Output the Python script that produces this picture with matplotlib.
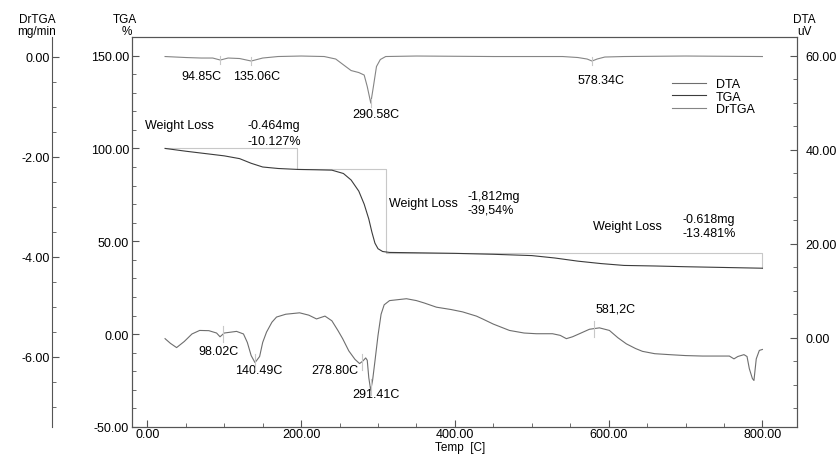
import matplotlib
matplotlib.use("Agg")
import matplotlib.pyplot as plt
import numpy as np
from matplotlib.ticker import MultipleLocator, FormatStrFormatter

plt.rcParams["font.family"] = ["Liberation Sans", "DejaVu Sans"]
plt.rcParams["font.size"] = 9

# DrTGA (mg/min) vs temperature
DR_T = [23, 50, 70, 85, 94.85, 105, 120, 135.06, 150, 170, 200, 230, 245, 258, 265, 275,
        282, 286, 290.58, 294, 298, 303, 310, 350, 450, 540, 560, 572, 578.34, 585, 595,
        620, 700, 800]
DR_V = [0.0, -0.02, -0.03, -0.03, -0.07, -0.03, -0.04, -0.09, -0.03, 0.0, 0.01, 0.0, -0.05,
        -0.2, -0.28, -0.32, -0.37, -0.6, -0.93, -0.6, -0.2, -0.06, 0.0, 0.01, 0.0, 0.0, -0.02,
        -0.05, -0.09, -0.05, -0.01, 0.0, 0.01, 0.0]

# TGA (%) vs temperature
TG_T = [23, 50, 80, 100, 120, 135, 150, 170, 195, 220, 240, 255, 265, 275, 282, 288, 292,
        296, 300, 306, 315, 350, 400, 450, 500, 530, 560, 590, 620, 660, 700, 750, 800]
TG_V = [100, 98.5, 97, 96, 94.5, 92, 90, 89.2, 88.7, 88.5, 88.3, 86.5, 83, 77, 70, 62, 55,
        49, 46, 44.5, 44, 43.8, 43.5, 43, 42.3, 41, 39.3, 38, 37, 36.7, 36.3, 35.9, 35.5]

# DTA (uV) vs temperature
DTA_T = [23, 30, 38, 48, 58, 68, 80, 90, 94.5, 100, 116, 125, 130, 135, 140, 146, 150, 155,
         162, 168, 180, 198, 210, 220, 231, 240, 248, 254, 262, 270, 276, 280, 284, 286, 288,
         290.5, 293, 296, 300, 304, 308, 315, 337, 350, 360, 376, 395, 410, 428, 436, 450,
         471, 490, 506, 527, 537, 545, 553, 562, 575, 588, 601, 612, 623, 635, 644, 660, 679,
         700, 722, 745, 757, 763, 768, 776, 780, 783, 787, 789, 792, 796, 800]
DTA_V = [-0.2, -1.2, -2.1, -0.8, 0.8, 1.55, 1.5, 1.0, 0.2, 1.0, 1.35, 0.8, -1.0, -3.8, -5.3,
         -4.0, -1.0, 1.2, 3.3, 4.4, 5.0, 5.3, 4.8, 4.0, 4.6, 3.6, 1.5, -0.2, -2.8, -4.6, -5.5,
         -5.0, -4.3, -4.8, -8.5, -11.2, -9.0, -5.0, 0.5, 5.0, 7.0, 7.9, 8.3, 7.9, 7.4, 6.5,
         6.0, 5.5, 4.6, 4.0, 2.9, 1.55, 1.0, 0.85, 0.85, 0.5, -0.2, 0.2, 0.85, 1.8, 2.1, 1.55,
         0.0, -1.3, -2.3, -2.9, -3.4, -3.6, -3.8, -3.9, -3.9, -3.9, -4.5, -4.0, -3.6, -4.0,
         -6.6, -8.7, -9.1, -4.5, -2.7, -2.5]

# weight-loss step construction lines
STEP_T = [23, 195, 310, 800]
STEP_W = [100, 88.7, 43.5, 35.5]

DR_PEAKS = [94.85, 135.06, 290.58, 578.34]
DTA_PEAKS = [98.02, 140.49, 278.80, 291.41, 581.2]

AX_COL = "#555555"
C_DTA = "#6e6e6e"
C_TGA = "#3c3c3c"
C_DR = "#858585"
C_AUX = "#c8c8c8"

fig = plt.figure(figsize=(8.39, 4.56), dpi=100)
ax = fig.add_axes([132 / 839, 28 / 456, 665 / 839, 390 / 456])
ax_dta = ax.twinx()
ax_dr = ax.twinx()

ax.set_xlim(-20, 845)
ax.set_ylim(-50, 160)
ax_dta.set_ylim(-19, 64)
ax_dr.set_ylim(-7.4, 0.39)

# curves
ax.step(STEP_T, STEP_W, where="post", color=C_AUX, lw=0.8)
ax.plot(TG_T, TG_V, color=C_TGA, lw=0.8)
ax_dta.plot(DTA_T, DTA_V, color=C_DTA, lw=0.8)
ax_dr.plot(DR_T, DR_V, color=C_DR, lw=0.8)

# peak markers
for t in DR_PEAKS:
    v = np.interp(t, DR_T, DR_V)
    ax_dr.plot([t, t], [v - 0.08, v + 0.08], color=C_AUX, lw=0.8)
for t in DTA_PEAKS:
    v = np.interp(t, DTA_T, DTA_V)
    ax_dta.plot([t, t], [v - 1.7, v + 1.7], color=C_AUX, lw=0.8)

# spines / ticks
for a in (ax, ax_dta, ax_dr):
    for s in a.spines.values():
        s.set_color(AX_COL)
        s.set_linewidth(0.8)

ax.xaxis.set_major_locator(MultipleLocator(200))
ax.xaxis.set_minor_locator(MultipleLocator(50))
ax.xaxis.set_major_formatter(FormatStrFormatter("%.2f"))
ax.yaxis.set_major_locator(MultipleLocator(50))
ax.yaxis.set_minor_locator(MultipleLocator(10))
ax.yaxis.set_major_formatter(FormatStrFormatter("%.2f"))
ax.tick_params(which="both", direction="in", color=AX_COL, labelsize=9, pad=2)
ax.tick_params(axis="x", which="both", pad=0.5)
ax.tick_params(which="major", length=5)
ax.tick_params(which="minor", length=3)

ax_dta.yaxis.set_major_locator(MultipleLocator(20))
ax_dta.yaxis.set_minor_locator(MultipleLocator(5))
ax_dta.yaxis.set_major_formatter(FormatStrFormatter("%.2f"))
ax_dta.tick_params(which="both", direction="in", color=AX_COL, labelsize=9, pad=6)
ax_dta.tick_params(which="major", length=5)
ax_dta.tick_params(which="minor", length=3)

ax_dr.spines["right"].set_visible(False)
ax_dr.spines["top"].set_visible(False)
ax_dr.spines["bottom"].set_visible(False)
ax_dr.spines["left"].set_visible(True)
ax_dr.spines["left"].set_position(("axes", (51.7 - 132) / 665))
ax_dr.yaxis.set_ticks_position("left")
ax_dr.yaxis.set_label_position("left")
ax_dr.yaxis.set_major_locator(MultipleLocator(2))
ax_dr.yaxis.set_minor_locator(MultipleLocator(0.5))
ax_dr.yaxis.set_major_formatter(FormatStrFormatter("%.2f"))
ax_dr.tick_params(which="both", direction="in", color=AX_COL, labelsize=9, pad=1)
ax_dr.tick_params(which="major", length=5)
ax_dr.tick_params(which="minor", length=3)

# axis titles
fig.text(37 / 839, 1 - 20 / 456, "DrTGA", ha="center", va="center", fontsize=8.5)
fig.text(37 / 839, 1 - 32 / 456, "mg/min", ha="center", va="center", fontsize=8.5)
fig.text(125 / 839, 1 - 20 / 456, "TGA", ha="center", va="center", fontsize=8.5)
fig.text(127 / 839, 1 - 32 / 456, "%", ha="center", va="center", fontsize=8.5)
fig.text(804 / 839, 1 - 20 / 456, "DTA", ha="center", va="center", fontsize=8.5)
fig.text(805 / 839, 1 - 32 / 456, "uV", ha="center", va="center", fontsize=8.5)
fig.text(460 / 839, 1 - 448.5 / 456, "Temp  [C]", ha="center", va="center", fontsize=8.5)

# peak labels
ax.text(69.7, 139, "94.85C", ha="center", va="center")
ax.text(142, 139, "135.06C", ha="center", va="center")
ax.text(297, 118.3, "290.58C", ha="center", va="center")
ax.text(590.5, 137, "578.34C", ha="center", va="center")
ax.text(92, -9, "98.02C", ha="center", va="center")
ax.text(144.9, -19.2, "140.49C", ha="center", va="center")
ax.text(244.4, -19.2, "278.80C", ha="center", va="center")
ax.text(297, -32.3, "291.41C", ha="center", va="center")
ax.text(609, 13.8, "581,2C", ha="center", va="center")

# weight loss labels
ax.text(-3, 112.4, "Weight Loss", ha="left", va="center")
ax.text(130, 112.4, "-0.464mg", ha="left", va="center")
ax.text(130, 104, "-10.127%", ha="left", va="center")
ax.text(314, 70.8, "Weight Loss", ha="left", va="center")
ax.text(417, 74.4, "-1,812mg", ha="left", va="center")
ax.text(417, 67.2, "-39,54%", ha="left", va="center")
ax.text(579, 58.2, "Weight Loss", ha="left", va="center")
ax.text(696, 61.8, "-0.618mg", ha="left", va="center")
ax.text(696, 54.7, "-13.481%", ha="left", va="center")

# legend
h1, = ax.plot([], [], color=C_DTA, lw=0.8, label="DTA")
h2, = ax.plot([], [], color=C_TGA, lw=0.8, label="TGA")
h3, = ax.plot([], [], color=C_DR, lw=0.8, label="DrTGA")
ax_dr.legend(handles=[h1, h2, h3], loc="upper left", bbox_to_anchor=(0.812, 0.895),
             frameon=False, borderaxespad=0, borderpad=0, handlelength=2.7,
             handletextpad=0.8, labelspacing=0.05, fontsize=9)

fig.savefig("out.png", dpi=100)
